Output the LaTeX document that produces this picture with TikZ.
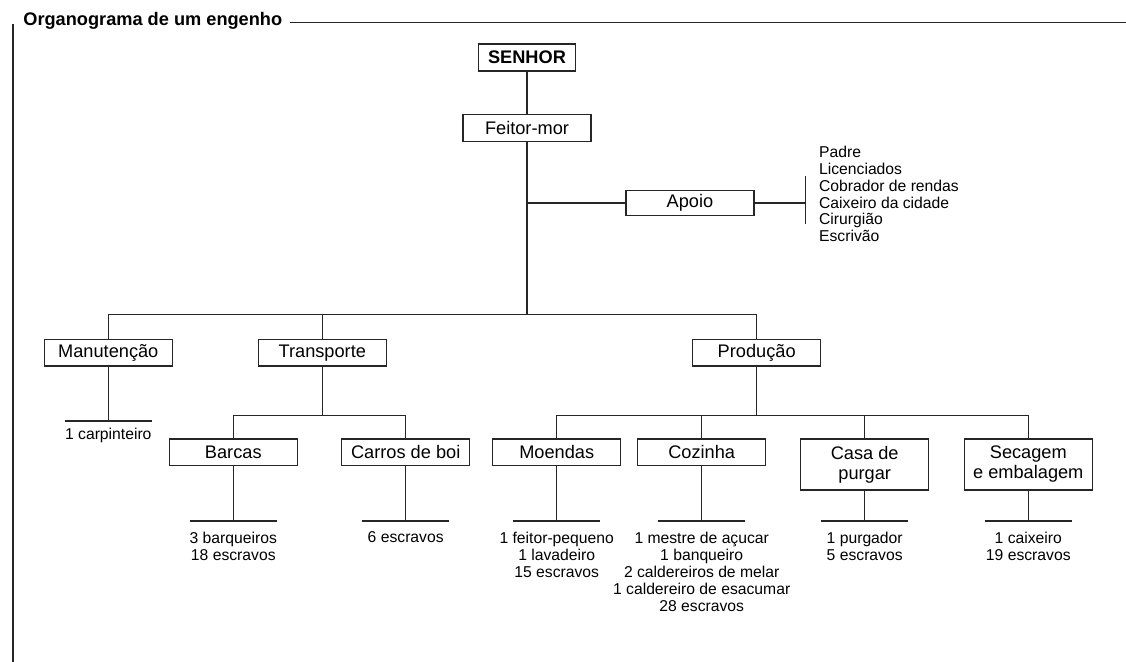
\documentclass[tikz,border=0pt]{standalone}
\usepackage{fontspec}
\setmainfont{Liberation Sans}
\usetikzlibrary{positioning}

\def\ux{0.5pt}
\def\uy{-0.5pt}

\begin{document}
\begin{tikzpicture}[x=\ux,y=\uy, line width=0.65pt, draw=black!85,
	caixa/.style={draw, minimum width=64pt, minimum height=13.25pt, inner sep=1pt, align=center, font=\fontsize{9.1}{10}\selectfont},
	dupla/.style={caixa, minimum height=25.5pt},
	lista/.style={inner sep=0pt, align=center, font=\fontsize{7.85}{8.55}\selectfont}]
		\useasboundingbox (0,0) rectangle (1126,662);

		\node[anchor=base west, inner sep=0pt, font=\fontsize{9.1}{10}\selectfont\bfseries] (titulo) at (22.7,26) {Organograma de um engenho};
		\coordinate (fim) at (1126,22.7);
		\coordinate (canto) at (12.7,24);
		\draw ([xshift=3.8pt]titulo.east |- fim) -- (fim);
		\draw[line width=1pt] (canto) -- (canto |- 0,662);

		\node[caixa, minimum width=48.5pt, minimum height=13.5pt, font=\fontsize{9.1}{10}\selectfont\bfseries] (senhor) at (527,57.5) {SENHOR};
		\node[caixa] (feitor) at (527,128) {Feitor-mor};
		\node[caixa, minimum height=12.5pt] (apoio) at (690,203) {Apoio};
		\coordinate (barra) at (805.7,203);
		\coordinate (bus) at (527,314.3);
		\draw (senhor) -- (feitor) -- (bus);
		\draw (feitor |- apoio) -- (apoio) -- (barra);
		\draw (barra) ++(0,-27.3) -- ++(0,48.3);
		\node[lista, anchor=west, align=left, font=\fontsize{7.85}{8.45}\selectfont] (funcoes) at (818.5,194)
			{Padre\\Licenciados\\Cobrador de rendas\\Caixeiro da cidade\\Cirurgião\\Escrivão};

		\node[caixa] (manut) at (108.3,352.7) {Manutenção};
		\node[caixa] (transp) at (322.3,352.7) {Transporte};
		\node[caixa] (prod) at (756.7,352.7) {Produção};
		\draw (manut) -- (manut |- bus) -- (prod |- bus) -- (prod);
		\draw (transp) -- (transp |- bus);

		\coordinate (sub) at (0,415.7);
		\coordinate (tracom) at (0,421);
		\coordinate (traco) at (0,521);
		\draw (manut) -- (manut |- tracom);
		\draw ([xshift=-21.65pt]manut |- tracom) -- ([xshift=21.65pt]manut |- tracom);
		\node[lista, anchor=north] (manut-txt) at ([yshift=-3.3pt]manut |- tracom) {1 carpinteiro};

		\node[caixa, anchor=north] (barcas) at (233.3,438.3) {Barcas};
		\node[caixa, anchor=north] (carros) at (405.7,438.3) {Carros de boi};
		\node[caixa, anchor=north] (moendas) at (556.7,438.3) {Moendas};
		\node[caixa, anchor=north] (cozinha) at (701.7,438.3) {Cozinha};
		\node[dupla, anchor=north] (casa) at (864.7,438.3) {Casa de\\purgar};
		\node[dupla, anchor=north] (secagem) at (1028.3,438.3) {Secagem\\e embalagem};

		\draw (transp) -- (transp |- sub);
		\draw (barcas) |- (transp |- sub) -| (carros);
		\draw (prod) -- (prod |- sub);
		\draw (moendas) |- (secagem |- sub) -- (secagem);
		\draw (cozinha) -- (cozinha |- sub);
		\draw (casa) -- (casa |- sub);

		\foreach \no/\txt in {barcas/{3 barqueiros\\18 escravos}, carros/{6 escravos},
			moendas/{1 feitor-pequeno\\1 lavadeiro\\15 escravos},
			cozinha/{1 mestre de açucar\\1 banqueiro\\2 caldereiros de melar\\1 caldereiro de esacumar\\28 escravos},
			casa/{1 purgador\\5 escravos}, secagem/{1 caixeiro\\19 escravos}}{
			\draw (\no) -- (\no |- traco);
			\draw ([xshift=-21.65pt]\no |- traco) -- ([xshift=21.65pt]\no |- traco);
			\node[lista, anchor=north] (\no-txt) at ([yshift=-5pt]\no |- traco) {\txt};
		}
\end{tikzpicture}
\end{document}
